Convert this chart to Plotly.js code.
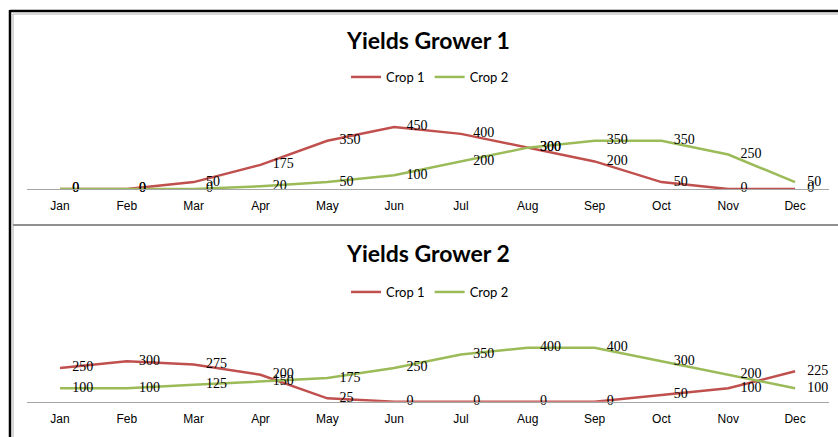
<!DOCTYPE html>
<html>
<head>
<meta charset="utf-8">
<script src="https://cdn.plot.ly/plotly-3.0.1.min.js"></script>
<style>html,body{margin:0;padding:0;background:#fff;}#chart{width:838px;height:437px;}</style>
</head>
<body>
<div id="chart"></div>
<script>
const months = ["Jan","Feb","Mar","Apr","May","Jun","Jul","Aug","Sep","Oct","Nov","Dec"];
const g1Crop1 = [0, 0, 50, 175, 350, 450, 400, 300, 200, 50, 0, 0];
const g1Crop2 = [0, 0, 0, 20, 50, 100, 200, 300, 350, 350, 250, 50];
const g2Crop1 = [250, 300, 275, 200, 25, 0, 0, 0, 0, 50, 100, 225];
const g2Crop2 = [100, 100, 125, 150, 175, 250, 350, 400, 400, 300, 200, 100];
const seriesNames = ["Crop 1", "Crop 2"];
const titles = ["Yields Grower 1", "Yields Grower 2"];

const RED = "#C0504D", GREEN = "#9BBB59";
const labelFont = {family: "Liberation Serif, serif", size: 14, color: "#000"};

function lineTr(y, name, color, xa, ya, leg) {
  return {
    x: months, y: y, name: name, type: "scatter", mode: "lines",
    line: {color: color, width: 2.5}, xaxis: xa, yaxis: ya,
    legend: leg, showlegend: true, hoverinfo: "skip"
  };
}
function textTr(y, xa, ya) {
  return {
    x: months, y: y, type: "scatter", mode: "markers+text",
    marker: {size: 18, opacity: 0, color: "#fff"},
    text: y.map(String), textposition: "middle right", textfont: labelFont,
    xaxis: xa, yaxis: ya, showlegend: false, cliponaxis: false, hoverinfo: "skip"
  };
}

const data = [
  lineTr(g1Crop1, seriesNames[0], RED, "x", "y", "legend"),
  lineTr(g1Crop2, seriesNames[1], GREEN, "x", "y", "legend"),
  lineTr(g2Crop1, seriesNames[0], RED, "x2", "y2", "legend2"),
  lineTr(g2Crop2, seriesNames[1], GREEN, "x2", "y2", "legend2"),
  textTr(g1Crop1, "x", "y"),
  textTr(g1Crop2, "x", "y"),
  textTr(g2Crop1, "x2", "y2"),
  textTr(g2Crop2, "x2", "y2")
];

const H = 437, W = 838;
const xdom = [26.6 / W, 828.5 / W];
const tickFont = {family: "Liberation Sans Narrow, Arial Narrow, Liberation Sans, sans-serif", size: 12, color: "#000"};
function xax(anchor) {
  return {domain: xdom, anchor: anchor, type: "category", range: [-0.5, 11.5],
    showline: true, linecolor: "#A6A6A6", linewidth: 1, showgrid: false, zeroline: false,
    ticks: "", tickfont: tickFont, ticklabelstandoff: 6, fixedrange: true};
}
function yax(dom, anchor) {
  return {domain: dom, anchor: anchor, range: [0, 600], visible: false, showgrid: false, zeroline: false, fixedrange: true};
}

const legFont = {family: "Lato, Open Sans, sans-serif", size: 13, color: "#000"};
const layout = {
  width: W, height: H,
  margin: {l: 0, r: 0, t: 0, b: 0},
  paper_bgcolor: "#fff", plot_bgcolor: "rgba(0,0,0,0)",
  xaxis: xax("y"),
  yaxis: yax([(H - 189) / H, (H - 106.3) / H], "x"),
  xaxis2: xax("y2"),
  yaxis2: yax([(H - 401.7) / H, (H - 320.7) / H], "x2"),
  legend: {orientation: "h", x: 430 / W, xanchor: "center", y: 1 - 77 / H, yanchor: "middle",
    font: legFont, bgcolor: "rgba(0,0,0,0)", itemwidth: 30, tracegroupgap: 0},
  legend2: {orientation: "h", x: 430 / W, xanchor: "center", y: 1 - 292 / H, yanchor: "middle",
    font: legFont, bgcolor: "rgba(0,0,0,0)", itemwidth: 30, tracegroupgap: 0},
  annotations: [
    {text: "<b>" + titles[0] + "</b>", xref: "paper", yref: "paper", x: 428 / W, y: 1 - 40 / H,
     xanchor: "center", yanchor: "middle", showarrow: false, font: {family: "Lato, Open Sans, sans-serif", size: 23, color: "#000"}},
    {text: "<b>" + titles[1] + "</b>", xref: "paper", yref: "paper", x: 428 / W, y: 1 - 253 / H,
     xanchor: "center", yanchor: "middle", showarrow: false, font: {family: "Lato, Open Sans, sans-serif", size: 23, color: "#000"}}
  ],
  shapes: [
    {type: "line", xref: "paper", yref: "paper", x0: 10 / W, x1: 1, y0: 1 - 11 / H, y1: 1 - 11 / H, line: {color: "#000", width: 2.5}},
    {type: "line", xref: "paper", yref: "paper", x0: 10 / W, x1: 10 / W, y0: 1 - 10 / H, y1: 0, line: {color: "#000", width: 2.5}},
    {type: "line", xref: "paper", yref: "paper", x0: 13 / W, x1: 1, y0: 1 - 14 / H, y1: 1 - 14 / H, line: {color: "#B0B0B0", width: 1}},
    {type: "line", xref: "paper", yref: "paper", x0: 13 / W, x1: 13 / W, y0: 1 - 14 / H, y1: 0, line: {color: "#B0B0B0", width: 1}},
    {type: "line", xref: "paper", yref: "paper", x0: 13 / W, x1: 1, y0: 1 - 225 / H, y1: 1 - 225 / H, line: {color: "#909090", width: 2}}
  ],
  showlegend: true
};

Plotly.newPlot("chart", data, layout, {displayModeBar: false, staticPlot: true});
</script>
</body>
</html>
